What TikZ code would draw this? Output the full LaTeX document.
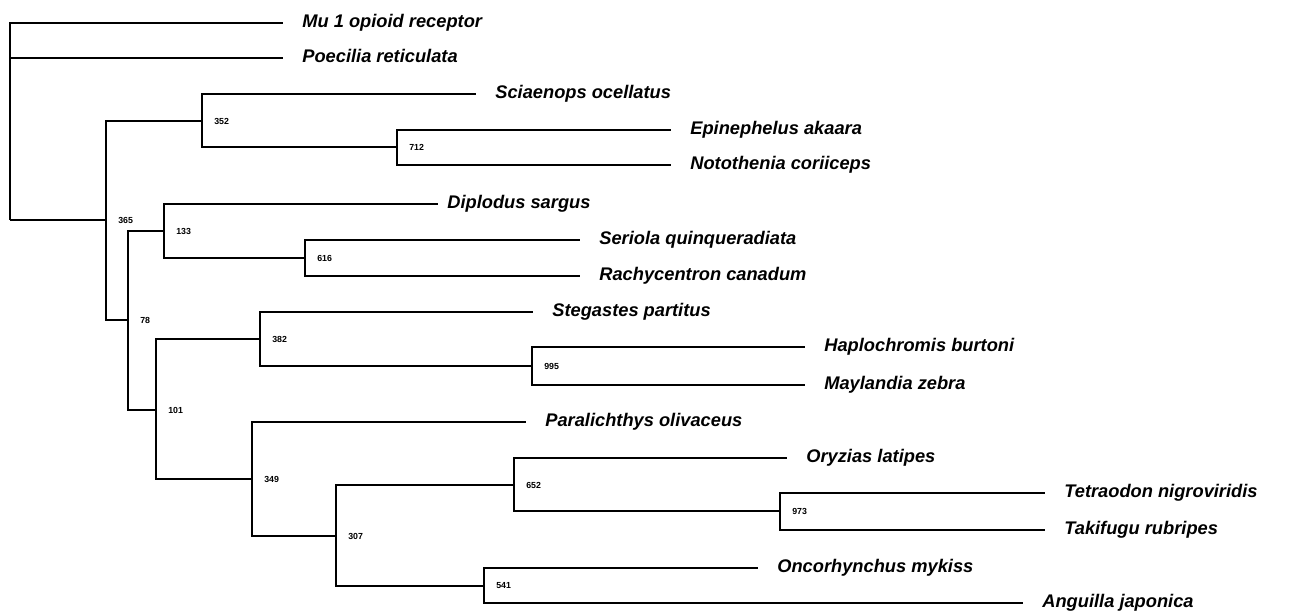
\documentclass[tikz,border=0pt]{standalone}
\usepackage{fontspec}
\setmainfont{Liberation Sans}
\usetikzlibrary{positioning}

\begin{document}
\begin{tikzpicture}[x=0.02cm, y=-0.02cm,
    branch/.style={draw=black, line width=0.9pt},
    taxon/.style={font=\fontsize{10.4}{12}\selectfont\bfseries\itshape,
                  anchor=base west, inner sep=0pt, xshift=0.38cm, yshift=-0.1cm},
    boot/.style={font=\fontsize{5}{6}\selectfont\bfseries,
                 anchor=west, inner sep=0pt, xshift=0.24cm}]
  \useasboundingbox (0,0) rectangle (1289,614);

  % Internal nodes
  \coordinate (root) at (10,220);
  \coordinate (n365) at (106,220);
  \coordinate (n352) at (202,121);
  \coordinate (n712) at (397,147);
  \coordinate (n78)  at (128,320);
  \coordinate (n133) at (164,231);
  \coordinate (n616) at (305,258);
  \coordinate (n101) at (156,410);
  \coordinate (n382) at (260,339);
  \coordinate (n995) at (532,366);
  \coordinate (n349) at (252,479);
  \coordinate (n307) at (336,536);
  \coordinate (n652) at (514,485);
  \coordinate (n973) at (780,511);
  \coordinate (n541) at (484,586);

  % Leaf ends
  \coordinate (eMu)  at (283,23);
  \coordinate (ePoe) at (283,58);
  \coordinate (eSci) at (476,94);
  \coordinate (eEpi) at (671,130);
  \coordinate (eNot) at (671,165);
  \coordinate (eDip) at (438,204);
  \coordinate (eSer) at (580,240);
  \coordinate (eRac) at (580,276);
  \coordinate (eSte) at (533,312);
  \coordinate (eHap) at (805,347);
  \coordinate (eMay) at (805,385);
  \coordinate (ePar) at (526,422);
  \coordinate (eOry) at (787,458);
  \coordinate (eTet) at (1045,493);
  \coordinate (eTak) at (1045,530);
  \coordinate (eOnc) at (758,568);
  \coordinate (eAng) at (1023,603);

  % Root
  \draw[branch] (root) |- (eMu);
  \draw[branch] (root) |- (ePoe);
  \draw[branch] (root) -- (n365);

  % Upper clade
  \draw[branch] (n365) |- (n352);
  \draw[branch] (n365) |- (n78);
  \draw[branch] (n352) |- (eSci);
  \draw[branch] (n352) |- (n712);
  \draw[branch] (n712) |- (eEpi);
  \draw[branch] (n712) |- (eNot);

  % Diplodus clade
  \draw[branch] (n78) |- (n133);
  \draw[branch] (n78) |- (n101);
  \draw[branch] (n133) |- (eDip);
  \draw[branch] (n133) |- (n616);
  \draw[branch] (n616) |- (eSer);
  \draw[branch] (n616) |- (eRac);

  % Stegastes clade
  \draw[branch] (n101) |- (n382);
  \draw[branch] (n101) |- (n349);
  \draw[branch] (n382) |- (eSte);
  \draw[branch] (n382) |- (n995);
  \draw[branch] (n995) |- (eHap);
  \draw[branch] (n995) |- (eMay);

  % Lower clade
  \draw[branch] (n349) |- (ePar);
  \draw[branch] (n349) |- (n307);
  \draw[branch] (n307) |- (n652);
  \draw[branch] (n307) |- (n541);
  \draw[branch] (n652) |- (eOry);
  \draw[branch] (n652) |- (n973);
  \draw[branch] (n973) |- (eTet);
  \draw[branch] (n973) |- (eTak);
  \draw[branch] (n541) |- (eOnc);
  \draw[branch] (n541) |- (eAng);

  % Bootstrap values
  \node[boot] (b365) at (n365) {365};
  \node[boot] (b352) at (n352) {352};
  \node[boot] (b712) at (n712) {712};
  \node[boot] (b78)  at (n78)  {78};
  \node[boot] (b133) at (n133) {133};
  \node[boot] (b616) at (n616) {616};
  \node[boot] (b101) at (n101) {101};
  \node[boot] (b382) at (n382) {382};
  \node[boot] (b995) at (n995) {995};
  \node[boot] (b349) at (n349) {349};
  \node[boot] (b307) at (n307) {307};
  \node[boot] (b652) at (n652) {652};
  \node[boot] (b973) at (n973) {973};
  \node[boot] (b541) at (n541) {541};

  % Taxa
  \node[taxon] (tMu)  at (eMu)  {Mu 1 opioid receptor};
  \node[taxon] (tPoe) at (ePoe) {Poecilia reticulata};
  \node[taxon] (tSci) at (eSci) {Sciaenops ocellatus};
  \node[taxon] (tEpi) at (eEpi) {Epinephelus akaara};
  \node[taxon] (tNot) at (eNot) {Notothenia coriiceps};
  \node[taxon, xshift=-0.2cm] (tDip) at (eDip) {Diplodus sargus};
  \node[taxon] (tSer) at (eSer) {Seriola quinqueradiata};
  \node[taxon] (tRac) at (eRac) {Rachycentron canadum};
  \node[taxon] (tSte) at (eSte) {Stegastes partitus};
  \node[taxon] (tHap) at (eHap) {Haplochromis burtoni};
  \node[taxon] (tMay) at (eMay) {Maylandia zebra};
  \node[taxon] (tPar) at (ePar) {Paralichthys olivaceus};
  \node[taxon] (tOry) at (eOry) {Oryzias latipes};
  \node[taxon] (tTet) at (eTet) {Tetraodon nigroviridis};
  \node[taxon] (tTak) at (eTak) {Takifugu rubripes};
  \node[taxon] (tOnc) at (eOnc) {Oncorhynchus mykiss};
  \node[taxon] (tAng) at (eAng) {Anguilla japonica};
\end{tikzpicture}
\end{document}
